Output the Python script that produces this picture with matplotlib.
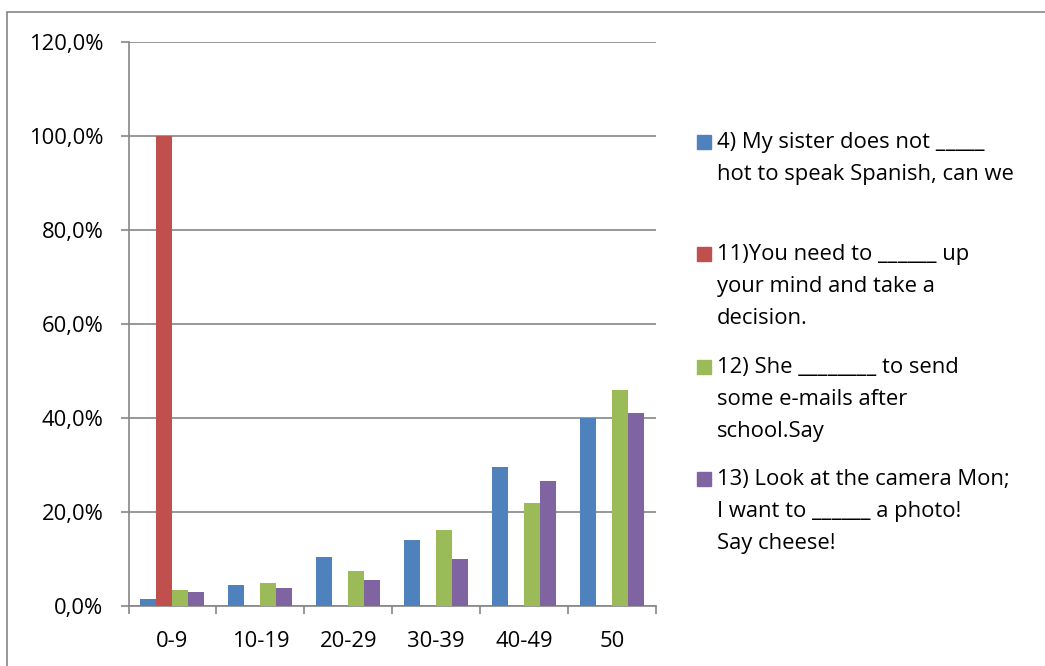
import numpy as np
import matplotlib.pyplot as plt
from matplotlib.patches import Rectangle
from matplotlib.ticker import FuncFormatter

# Data (percent)
categories = ["0-9", "10-19", "20-29", "30-39", "40-49", "50"]
q4 = [1.4, 4.4, 10.4, 14.0, 29.6, 40.0]
q11 = [100.0, 0, 0, 0, 0, 0]
q12 = [3.4, 5.0, 7.5, 16.1, 22.0, 46.0]
q13 = [2.9, 3.9, 5.5, 10.0, 26.6, 41.0]

labels = [
    "4) My sister does not _____\nhot to speak Spanish, can we",
    "11)You need to ______ up\nyour mind and take a\ndecision.",
    "12) She ________ to send\nsome e-mails after\nschool.Say",
    "13) Look at the camera Mon;\nI want to ______ a photo!\nSay cheese!",
]
colors = ["#4F81BD", "#C0504D", "#9BBB59", "#8064A2"]
series = [q4, q11, q12, q13]

plt.rcParams["font.family"] = ["Open Sans", "DejaVu Sans"]
FS = 15.8
GRID = "#868686"

fig = plt.figure(figsize=(10.45, 6.66), dpi=100)
W, H = 1045, 666

# outer chart border (cropped at right and bottom)
fig.patches.append(Rectangle((7 / W, -0.1), 1.2, 1 - 12 / H + 0.1,
                             transform=fig.transFigure, fill=False,
                             edgecolor=GRID, linewidth=1.2))

ax = fig.add_axes([128.5 / W, 1 - 606 / H, (656 - 128.5) / W, (606 - 42) / H])

x = np.arange(len(categories))
w = 1 / 5.5
for i, (vals, c) in enumerate(zip(series, colors)):
    ax.bar(x + (i - 1.5) * w, vals, width=w, color=c, zorder=3)

ax.set_xlim(-0.5, len(categories) - 0.5)
ax.set_ylim(0, 120)
ax.set_yticks(np.arange(0, 121, 20))
ax.yaxis.set_major_formatter(FuncFormatter(lambda v, p: f"{v:.1f}%".replace(".", ",")))
ax.set_xticks(x)
ax.set_xticklabels(categories)
ax.set_xticks(np.arange(-0.5, len(categories)), minor=True)
ax.grid(axis="y", color=GRID, linewidth=1.2, zorder=0)

for s in ["top", "right"]:
    ax.spines[s].set_visible(False)
for s in ["left", "bottom"]:
    ax.spines[s].set_color(GRID)
    ax.spines[s].set_linewidth(1.2)

ax.tick_params(axis="y", length=6, color=GRID, width=1.2, pad=12, labelsize=FS)
ax.tick_params(axis="x", which="major", length=0, pad=18, labelsize=FS)
ax.tick_params(axis="x", which="minor", length=6, color=GRID, width=1.2)

# legend drawn by hand: square beside first line of each entry
baselines = [150, 262, 375, 487]
for lab, c, by in zip(labels, colors, baselines):
    fig.patches.append(Rectangle((696.5 / W, 1 - (by - 1) / H), 14 / W, 14 / H,
                                 transform=fig.transFigure, color=c))
    fig.text(717 / W, 1 - (by - 18) / H, lab, fontsize=FS, va="top", ha="left",
             linespacing=1.7)

fig.savefig("out.png", dpi=100)
